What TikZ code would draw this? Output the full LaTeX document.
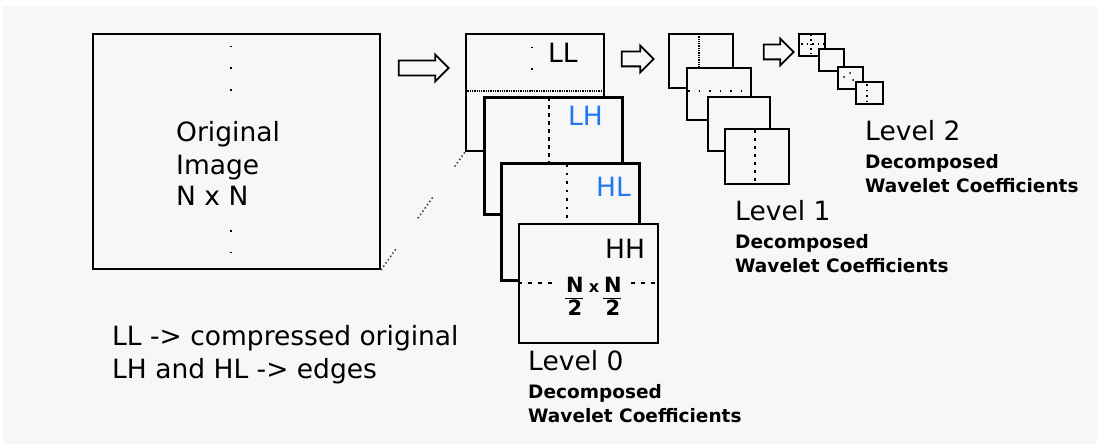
\documentclass[tikz,border=0pt]{standalone}
\usepackage{fontspec}
\setmainfont{DejaVu Sans}
\usetikzlibrary{shapes.arrows}
\definecolor{bggray}{RGB}{247,247,247}
\definecolor{bandblue}{RGB}{30,120,240}

\tikzset{
  coef/.style={draw, line width=2pt, fill=bggray, inner sep=0pt, anchor=north west},
  bigtext/.style={font=\fontsize{26.5}{32}\selectfont, inner sep=0pt, anchor=base west},
  smalltext/.style={font=\bfseries\fontsize{18.5}{22}\selectfont, inner sep=0pt, anchor=base west},
  fractext/.style={font=\bfseries\fontsize{21}{24}\selectfont, inner sep=0pt, anchor=base},
  hollow/.style={single arrow, draw, line width=1.8pt, fill=bggray, inner xsep=0pt, inner ysep=6.5pt,
    single arrow head extend=6pt, single arrow head indent=0pt},
  sparse/.style={line width=1.4pt, dash pattern=on 1.5pt off 20pt},
  fine/.style={line width=1.3pt, densely dotted},
  faded/.style={darkgray, line width=1.5pt, dash pattern={on 1.5pt off 2.5pt on 1.5pt off 2.5pt
    on 1.5pt off 2.5pt on 1.5pt off 2.5pt on 1.5pt off 2.5pt on 1.5pt off 2.5pt on 1.5pt off 38pt}},
}

\begin{document}
\begin{tikzpicture}[x=1pt, y=-1pt]
\fill[white] (0,0) rectangle (1097,444);
\fill[bggray] (3,6) rectangle (1097,444);
\useasboundingbox (0,0) rectangle (1097,444);

% original image
\node[coef, minimum width=287pt, minimum height=235pt] (orig) at (92,33) {};
\draw[sparse] (231,46) -- (231,100);
\draw[sparse] (231,230) -- (231,268);
\node[bigtext] (origtxt) at (176,141) {Original};
\node[bigtext] (imgtxt) at (176,174) {Image};
\node[bigtext] (nntxt) at (176,205) {N x N};

\node[hollow, minimum height=50pt] (arr0) at (420,68) {};

% level 0
\node[coef, minimum width=138pt, minimum height=117pt] (ll) at (465,33) {};
\draw[fine] (465,91) -- (603,91);
\draw[sparse] (532,47) -- (532,91);
\node[bigtext] (lltxt) at (548,63) {LL};
\draw[faded] (orig.south east) -- (ll.south west);

\node[coef, line width=2.5pt, minimum width=138pt, minimum height=117pt] (lh) at (483,96) {};
\draw[line width=1.4pt, dash pattern=on 4pt off 4pt] (549,97) -- (549,162);
\node[bigtext, text=bandblue] (lhtxt) at (568,125) {LH};

\node[coef, line width=2.5pt, minimum width=138pt, minimum height=117pt] (hl) at (500,162) {};
\draw[line width=1.8pt, dash pattern=on 2.5pt off 6pt] (567,164) -- (567,223);
\node[bigtext, text=bandblue] (hltxt) at (596,196) {HL};

\node[coef, minimum width=139pt, minimum height=119pt] (hh) at (518,223) {};
\node[bigtext] (hhtxt) at (605,258) {HH};
\node[fractext] (numa) at (575,292) {N};
\node[fractext, font=\bfseries\fontsize{16}{18}\selectfont] (times) at (594,292) {x};
\node[fractext] (numb) at (613,292) {N};
\node[fractext] (dena) at (575,315) {2};
\node[fractext] (denb) at (613,315) {2};
\draw[line width=1.4pt] ([xshift=-3pt,yshift=1pt]dena.north west) -- ([yshift=1pt]dena.north east);
\draw[line width=1.4pt] ([xshift=-3pt,yshift=1pt]denb.north west) -- ([yshift=1pt]denb.north east);
\draw[line width=1.3pt, dash pattern=on 4pt off 6pt] (hh.west |- 0,283) -- (557,283);
\draw[line width=1.3pt, dash pattern=on 4pt off 6pt] (631,283) -- (hh.east |- 0,283);

\node[bigtext] (lev0) at (528,370) {Level 0};
\node[smalltext] (dec0) at (528,398) {Decomposed};
\node[smalltext] (wav0) at (528,422) {Wavelet Coefficients};

\node[hollow, minimum height=32pt] (arr1) at (634,59) {};

% level 1
\node[coef, minimum width=64pt, minimum height=54pt] (la) at (668,33) {};
\draw[fine] (699,34) -- (699,87);
\node[coef, minimum width=64pt, minimum height=52pt] (lb) at (686,67) {};
\draw[line width=1.3pt, dash pattern=on 1.5pt off 9pt] (688,91) -- (749,91);
\node[coef, minimum width=62pt, minimum height=54pt] (lc) at (707,96) {};
\node[coef, minimum width=64pt, minimum height=55pt] (ld) at (724,128) {};
\draw[line width=1.6pt, dash pattern=on 3pt off 5pt] (755,130) -- (755,183);

\node[bigtext] (lev1) at (735,220) {Level 1};
\node[smalltext] (dec1) at (735,248) {Decomposed};
\node[smalltext] (wav1) at (735,272) {Wavelet Coefficients};

\node[hollow, minimum height=30pt] (arr2) at (775,52) {};

% level 2
\node[coef, minimum width=26pt, minimum height=22pt] (sa) at (798,33) {};
\draw[line width=1.2pt, dash pattern=on 1.5pt off 3pt] (811,35) -- (811,55);
\draw[line width=1.2pt, dash pattern=on 1.5pt off 4pt] (801,44) -- (824,44);
\node[coef, minimum width=25pt, minimum height=22pt] (sb) at (818,48) {};
\node[coef, minimum width=25pt, minimum height=22pt] (sc) at (837,66) {};
\fill (844,77) circle (1pt) (850,73) circle (1pt) (853,80) circle (1pt);
\node[coef, minimum width=27pt, minimum height=22pt] (sd) at (855,81) {};
\draw[line width=1.2pt, dash pattern=on 1.5pt off 4pt] (867,84) -- (867,103);

\node[bigtext] (lev2) at (865,140) {Level 2};
\node[smalltext] (dec2) at (865,168) {Decomposed};
\node[smalltext] (wav2) at (865,192) {Wavelet Coefficients};

% legend
\node[bigtext] (note1) at (112,345) {LL -> compressed original};
\node[bigtext] (note2) at (112,378) {LH and HL -> edges};
\end{tikzpicture}
\end{document}
